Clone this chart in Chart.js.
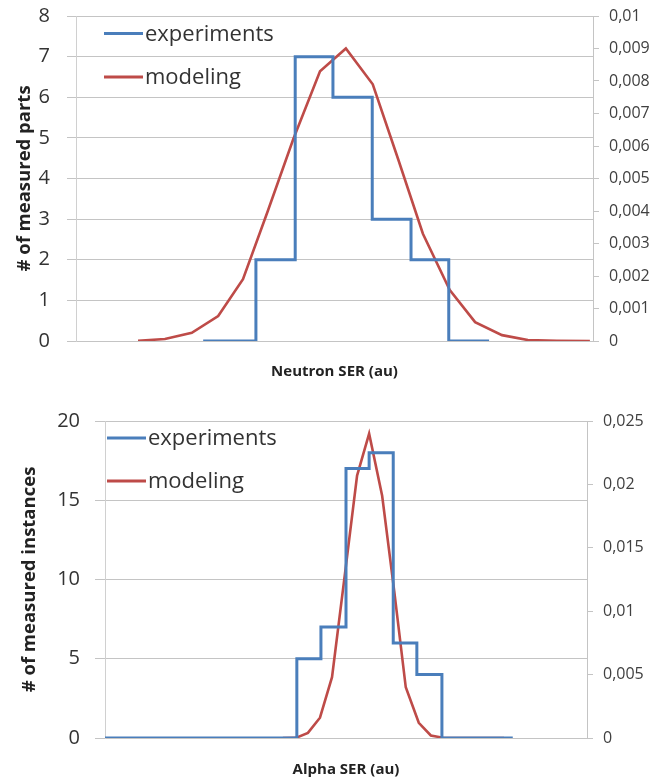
<!DOCTYPE html>
<html>
<head>
<meta charset="utf-8">
<script src="https://cdn.jsdelivr.net/npm/chart.js@4/dist/chart.umd.min.js"></script>
<style>
body{margin:0;background:#fff;}
.box{position:absolute;left:0;width:651px;}
#topBox{top:0;height:390px;}
#botBox{top:390px;height:392px;}
</style>
</head>
<body>
<div class="box" id="topBox"><canvas id="neutron"></canvas></div>
<div class="box" id="botBox"><canvas id="alpha"></canvas></div>
<script>
/* DATA: neutron (top) */
const neutronEdges=[24.6,34.8,42.4,49.7,57.3,64.8,72.1,79.9];
const neutronCounts=[0,2,7,6,3,2,0,0];
const neutronModelX=[12.0,17.2,22.4,27.5,32.3,37.1,42.0,47.2,52.2,57.4,62.3,67.1,72.3,77.2,82.4,87.4,93.0,99.4];
const neutronModelY=[0.00001,0.00006,0.00025,0.00077,0.0019,0.004,0.0062,0.0083,0.009,0.0079,0.0056,0.0033,0.00157,0.00058,0.00018,0.00003,0.00001,0];
const neutronLeftTicks=[0,8,1];
const neutronRightTicks=[0,0.01,0.001];

/* DATA: alpha (bottom) */
const alphaEdges=[0,39.8,44.8,50.0,54.8,59.8,64.7,69.9,84.6];
const alphaCounts=[0,5,7,17,18,6,4,0,0];
const alphaModelX=[36.9,39.6,42.1,44.6,47.1,49.8,52.3,54.8,57.5,60.0,62.4,65.1,67.6,70.1,72.6,75.1,77.8,80.3,82.8];
const alphaModelY=[0,0.00001,0.0004,0.0016,0.0048,0.013,0.0207,0.024,0.0191,0.0116,0.004,0.0012,0.0002,0.00002,0,0,0,0,0];
const alphaLeftTicks=[0,20,5];
const alphaRightTicks=[0,0.025,0.005];

const seriesNames=["experiments","modeling"];

const BLUE="#4a7ebb", RED="#be4b48", GRID="#c4c4c4", TXT="#333";

Chart.defaults.font.family="'Open Sans', sans-serif";
Chart.defaults.color=TXT;

/* LEGEND inside the plot, top-left (excel style) */
const insideLegend={
  id:"insideLegend",
  afterDatasetsDraw(chart,args,o){
    const ctx=chart.ctx, a=chart.chartArea;
    ctx.save();
    ctx.font="22px 'Open Sans', sans-serif";
    ctx.textBaseline="middle";
    chart.data.datasets.forEach((ds,i)=>{
      const x=a.left+o.x, y=a.top+o.y+i*o.gap;
      ctx.strokeStyle=ds.borderColor;
      ctx.lineWidth=3;
      ctx.beginPath();ctx.moveTo(x,y);ctx.lineTo(x+39,y);ctx.stroke();
      ctx.fillStyle=TXT;
      ctx.fillText(ds.label,x+41,y+1);
    });
    ctx.restore();
  }
};

function pts(xs,ys){
  return xs.map((x,i)=>({x:x,y:ys[i]}));
}

function comma(v){
  return String(+v.toFixed(4)).replace(".",",");
}

/* fixed axis box + no extra label padding pushing the plot */
function fixY(w){
  return s=>{s.width=w;s.paddingTop=10;s.paddingBottom=10;};
}

function makeChart(id,o){
  return new Chart(document.getElementById(id),{
    type:"scatter",
    data:{
      datasets:[
        {label:seriesNames[0],data:pts(o.edges,o.counts),showLine:true,stepped:"before",
         borderColor:BLUE,backgroundColor:BLUE,borderWidth:3,pointRadius:0,yAxisID:"y"},
        {label:seriesNames[1],data:pts(o.mx,o.my),showLine:true,
         borderColor:RED,backgroundColor:RED,borderWidth:2.6,pointRadius:0,yAxisID:"y2"}
      ]
    },
    options:{
      responsive:true,
      maintainAspectRatio:false,
      animation:false,
      layout:{padding:{top:o.top,left:0,right:0,bottom:0}},
      plugins:{
        tooltip:{enabled:false},
        legend:{display:false},
        insideLegend:o.leg
      },
      scales:{
        x:{type:"linear",min:0,max:100,
           ticks:{display:false},grid:{display:false},border:{display:false},
           title:{display:true,text:o.xTitle,font:{size:15,weight:"bold"},color:"#222",padding:{top:0,bottom:o.xTitlePad}},
           afterFit:s=>{s.height=o.xh;}},
        y:{position:"left",min:o.lt[0],max:o.lt[1],
           ticks:{stepSize:o.lt[2],padding:o.lPad,font:{size:20},color:TXT},
           grid:{color:GRID,tickLength:o.tl},
           border:{display:true,color:"#d0d0d0"},
           title:{display:true,text:o.yTitle,font:{size:18.5,weight:"bold"},color:"#222",padding:{top:o.yTitlePad,bottom:0}},
           afterFit:fixY(o.lw)},
        y2:{position:"right",min:o.rt[0],max:o.rt[1],
            ticks:{stepSize:o.rt[2],padding:o.rPad,font:{size:16},color:"#404040",callback:v=>comma(v)},
            grid:{drawOnChartArea:false,color:GRID,tickLength:6},
            border:{display:true,color:GRID},
            afterFit:fixY(o.rw)}
      }
    },
    plugins:[insideLegend]
  });
}

makeChart("neutron",{
  edges:neutronEdges,counts:neutronCounts,mx:neutronModelX,my:neutronModelY,
  lt:neutronLeftTicks,rt:neutronRightTicks,
  xTitle:"Neutron SER (au)",yTitle:"# of measured parts",
  top:16,xh:49,lw:76,rw:58,tl:9,lPad:17,rPad:10,xTitlePad:9,yTitlePad:14,
  leg:{x:28,y:17.5,gap:43.5}
});

makeChart("alpha",{
  edges:alphaEdges,counts:alphaCounts,mx:alphaModelX,my:alphaModelY,
  lt:alphaLeftTicks,rt:alphaRightTicks,
  xTitle:"Alpha SER (au)",yTitle:"# of measured instances",
  top:31,xh:44,lw:105,rw:64,tl:10,lPad:15,rPad:10,xTitlePad:3,yTitlePad:19,
  leg:{x:2,y:17,gap:43}
});
</script>
</body>
</html>
